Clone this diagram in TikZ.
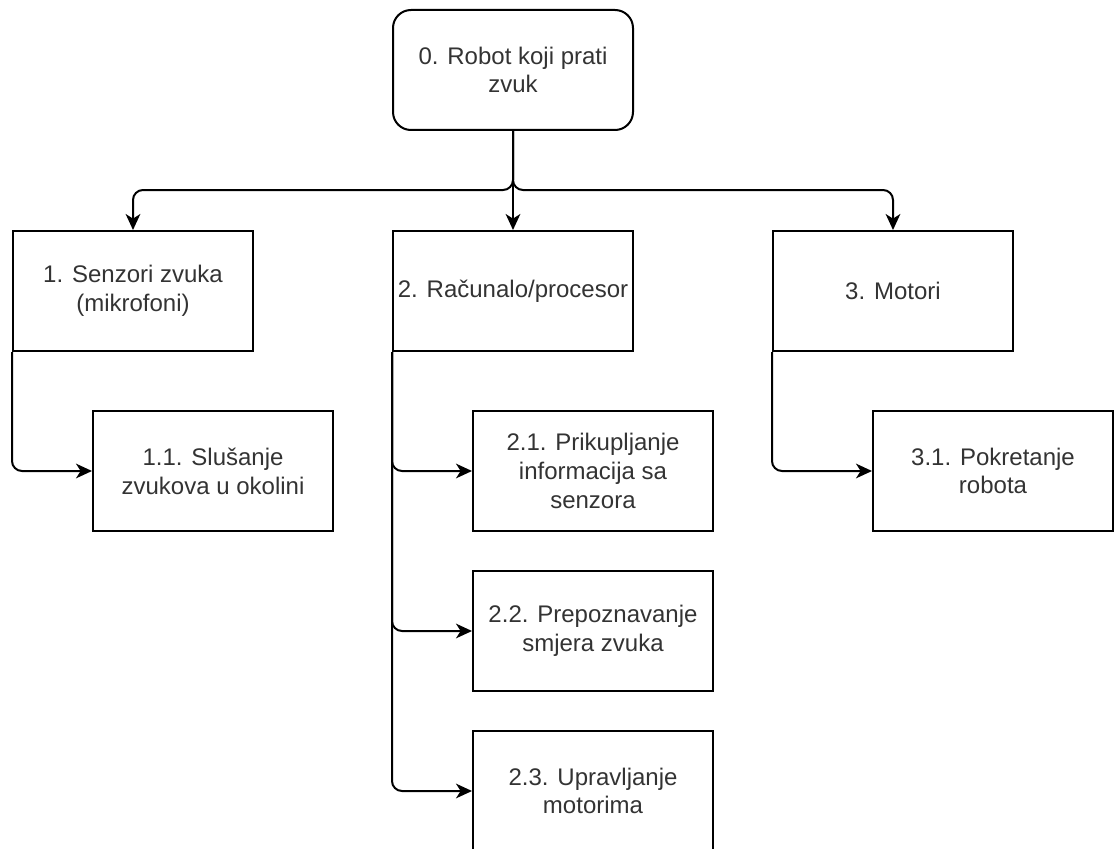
\documentclass[tikz,border=0pt]{standalone}
\usepackage{fontspec}
\setmainfont{Liberation Sans}
\usetikzlibrary{arrows.meta}
\begin{document}
\begin{tikzpicture}[x=0.75pt, y=-0.75pt,
    box/.style={draw, line width=1.5pt, minimum width=180pt, minimum height=90pt,
      align=center, font=\fontsize{18}{21.6}\selectfont, text=black!80, inner sep=0pt},
    rootbox/.style={box, rounded corners=13.5pt},
    conn/.style={line width=1.5pt, rounded corners=7.5pt, -{Stealth[length=12pt, width=11pt, inset=3.5pt]}}]
  \useasboundingbox (0, 0) rectangle (1115, 849);
  \clip (0, 0) rectangle (1115, 849);
  \node[rootbox] (robot) at (513, 70) {0. Robot koji prati\\zvuk};
  \node[box] (senzori) at (133, 291) {1. Senzori zvuka\\(mikrofoni)};
  \node[box] (racunalo) at (513, 291) {2. Računalo/procesor};
  \node[box] (motori) at (893, 291) {3. Motori};
  \node[box] (slusanje) at (213, 471) {1.1. Slušanje\\zvukova u okolini};
  \node[box] (prikupljanje) at (593, 471) {2.1. Prikupljanje\\informacija sa\\senzora};
  \node[box] (smjer) at (593, 631) {2.2. Prepoznavanje\\smjera zvuka};
  \node[box] (upravljanje) at (593, 791) {2.3. Upravljanje\\motorima};
  \node[box] (pokretanje) at (993, 471) {3.1. Pokretanje\\robota};
  \coordinate (fork) at (513, 190);
  % from the root down to the three parts
  \draw[conn] (robot.south) -- (fork) -| (senzori.north);
  \draw[conn] (robot.south) -- (racunalo.north);
  \draw[conn] (robot.south) -- (fork) -| (motori.north);
  % from each part to its tasks
  \draw[conn] (senzori.south west) |- (slusanje.west);
  \draw[conn] (racunalo.south west) |- (prikupljanje.west);
  \draw[conn] (racunalo.south west) |- (smjer.west);
  \draw[conn] (racunalo.south west) |- (upravljanje.west);
  \draw[conn] (motori.south west) |- (pokretanje.west);
\end{tikzpicture}
\end{document}
